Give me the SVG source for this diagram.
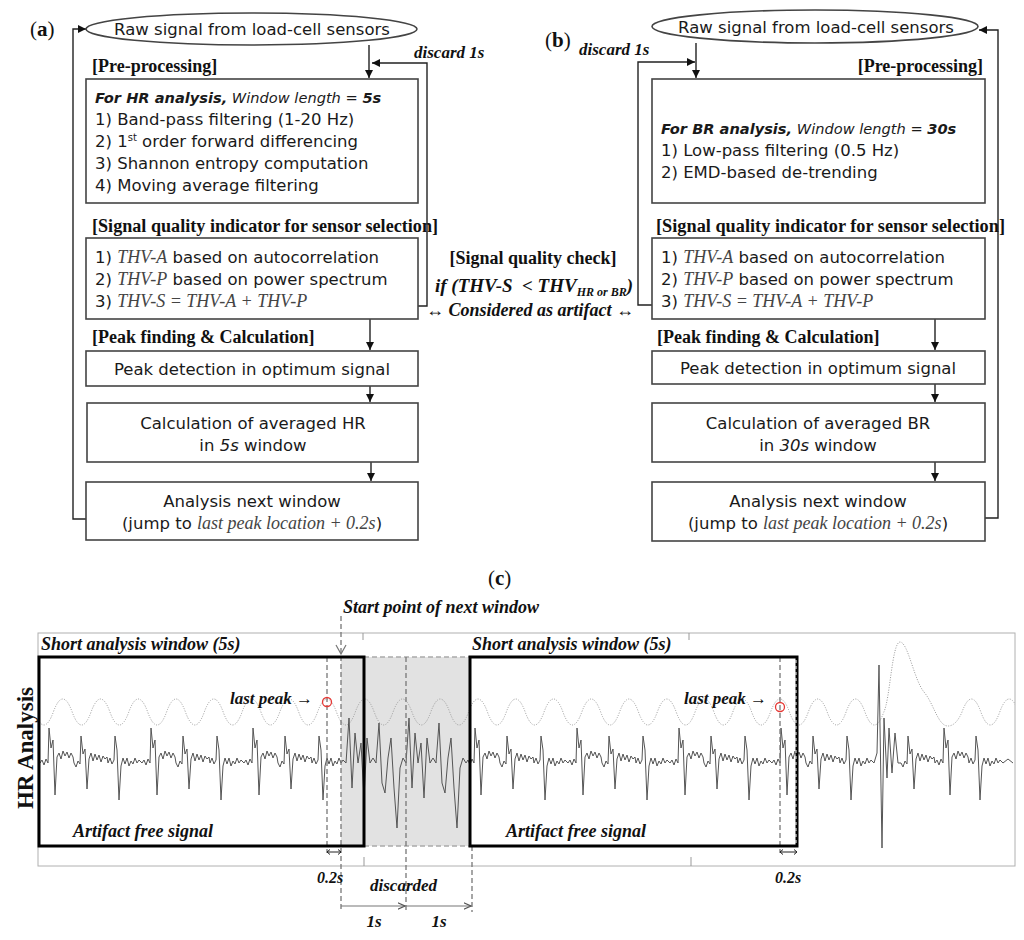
<svg xmlns="http://www.w3.org/2000/svg" width="1024" height="940" viewBox="0 0 1024 940">
<style>
.bx{fill:#fff;stroke:#444;stroke-width:1.6}
.s{font-family:"DejaVu Sans",sans-serif;font-size:16.5px;fill:#1a1a1a}
.m{text-anchor:middle}
.tb{font-family:"Liberation Serif",serif;font-weight:bold;font-size:18px;fill:#111}
.tbi{font-family:"Liberation Serif",serif;font-weight:bold;font-style:italic;font-size:18px;fill:#111}
.ti{font-family:"Liberation Serif",serif;font-style:italic;font-size:18px;fill:#444}
.ob{font-style:oblique}
.bo{font-style:oblique;font-weight:bold}
.c{fill:none;stroke:#222;stroke-width:1.4}
.lbl{font-family:"Liberation Serif",serif;font-size:21px;fill:#111}
.dash{fill:none;stroke:#777;stroke-width:1.3;stroke-dasharray:5,3}
.ldash{fill:none;stroke:#aaa;stroke-width:1.5;stroke-dasharray:5,3}
.thick{fill:none;stroke:#000;stroke-width:3}
.sig{fill:none;stroke:#555;stroke-width:1}
.dot{fill:none;stroke:#999;stroke-width:1;stroke-dasharray:1,1.5}
.pk{fill:none;stroke:#e53935;stroke-width:1.3}
.ga{fill:none;stroke:#777;stroke-width:1.2}
</style>
<defs>
<marker id="ah" viewBox="0 0 10 10" refX="10" refY="5" markerWidth="8" markerHeight="8" orient="auto" markerUnits="userSpaceOnUse"><path d="M0,0 L10,5 L0,10 z" fill="#111"/></marker>
<marker id="ahg" viewBox="0 0 10 10" refX="9" refY="5" markerWidth="8" markerHeight="8" orient="auto" markerUnits="userSpaceOnUse"><path d="M0,1 L9,5 L0,9" fill="none" stroke="#555" stroke-width="1.5"/></marker>
<clipPath id="fr"><rect x="38" y="633" width="977" height="233"/></clipPath>
</defs>

<!-- panel labels -->
<text class="lbl" x="30" y="36">(<tspan font-weight="bold">a</tspan>)</text>
<text class="lbl" x="545" y="47">(<tspan font-weight="bold">b</tspan>)</text>
<text class="lbl" x="488" y="585">(<tspan font-weight="bold">c</tspan>)</text>

<!-- connectors -->
<g id="connectors">
<path class="c" d="M369,45 V78" marker-end="url(#ah)"/>
<path class="c" d="M418,306 H427 V63 H372" marker-end="url(#ah)"/>
<path class="c" d="M370,319 V350" marker-end="url(#ah)"/>
<path class="c" d="M370,386 V402" marker-end="url(#ah)"/>
<path class="c" d="M371,462 V481" marker-end="url(#ah)"/>
<path class="c" d="M86,519 H73 V29 H86" marker-end="url(#ah)"/>
<path class="c" d="M696,43 V78" marker-end="url(#ah)"/>
<path class="c" d="M652,305 H638 V62 H695" marker-end="url(#ah)"/>
<path class="c" d="M935,319 V350" marker-end="url(#ah)"/>
<path class="c" d="M935,384 V402" marker-end="url(#ah)"/>
<path class="c" d="M935,462 V481" marker-end="url(#ah)"/>
<path class="c" d="M985,518 H998 V30 H979" marker-end="url(#ah)"/>
</g>

<!-- panel (a) -->
<g id="a-source">
<ellipse cx="251.5" cy="29" rx="165.5" ry="16" class="bx"/>
<text class="s m" x="252" y="35">Raw signal from load-cell sensors</text>
</g>
<text class="tbi" x="414" y="58" style="font-size:17px">discard 1s</text>
<text class="tb" x="92" y="72">[Pre-processing]</text>
<g id="a-pre">
<rect x="86" y="79" width="332" height="124" class="bx"/>
<text class="s" x="95" y="103" style="font-size:14.6px"><tspan class="bo">For HR analysis,</tspan><tspan class="ob"> Window length = </tspan><tspan class="bo">5s</tspan></text>
<text class="s" x="95" y="125">1) Band-pass filtering (1-20 Hz)</text>
<text class="s" x="95" y="147">2) 1<tspan style="font-size:10px" dy="-6">st</tspan><tspan dy="6"> order forward differencing</tspan></text>
<text class="s" x="95" y="169">3) Shannon entropy computation</text>
<text class="s" x="95" y="191">4) Moving average filtering</text>
</g>
<text class="tb" x="92" y="232" textLength="346" lengthAdjust="spacingAndGlyphs">[Signal quality indicator for sensor selection]</text>
<g id="a-sqi">
<rect x="86" y="238" width="332" height="81" class="bx"/>
<text class="s" x="95" y="263">1) <tspan class="ti">THV-A</tspan> based on autocorrelation</text>
<text class="s" x="95" y="285">2) <tspan class="ti">THV-P</tspan> based on power spectrum</text>
<text class="s" x="95" y="307">3) <tspan class="ti">THV-S = THV-A + THV-P</tspan></text>
</g>
<text class="tb" x="92" y="343">[Peak finding &amp; Calculation]</text>
<g id="a-peak">
<rect x="86" y="351" width="332" height="35" class="bx"/>
<text class="s m" x="252" y="375">Peak detection in optimum signal</text>
</g>
<g id="a-calc">
<rect x="87" y="403" width="331" height="59" class="bx"/>
<text class="s m" x="253" y="429">Calculation of averaged HR</text>
<text class="s m" x="253" y="451">in <tspan class="ob">5s</tspan> window</text>
</g>
<g id="a-next">
<rect x="86" y="482" width="332" height="58" class="bx"/>
<text class="s m" x="252" y="507">Analysis next window</text>
<text class="s m" x="252" y="529">(jump to <tspan class="ti">last peak location + 0.2s</tspan>)</text>
</g>

<!-- middle -->
<g id="quality-check">
<text class="tb m" x="533" y="264">[Signal quality check]</text>
<text class="tbi m" x="534" y="292" style="font-size:19px">if (THV-S&#160; &lt; THV<tspan style="font-size:12px" dy="4">HR or BR</tspan><tspan dy="-4">)</tspan></text>
<text class="tbi m" x="530" y="316">↔ Considered as artifact ↔</text>
</g>

<!-- panel (b) -->
<g id="b-source">
<ellipse cx="815" cy="26.5" rx="163" ry="16.5" class="bx"/>
<text class="s m" x="816" y="33">Raw signal from load-cell sensors</text>
</g>
<text class="tbi" x="579" y="55" style="font-size:17px">discard 1s</text>
<text class="tb" x="983" y="72" text-anchor="end">[Pre-processing]</text>
<g id="b-pre">
<rect x="652" y="79" width="333" height="124" class="bx"/>
<text class="s" x="661" y="134" style="font-size:14.6px"><tspan class="bo">For BR analysis,</tspan><tspan class="ob"> Window length = </tspan><tspan class="bo">30s</tspan></text>
<text class="s" x="661" y="156">1) Low-pass filtering (0.5 Hz)</text>
<text class="s" x="661" y="178">2) EMD-based de-trending</text>
</g>
<text class="tb" x="656" y="232" textLength="349" lengthAdjust="spacingAndGlyphs">[Signal quality indicator for sensor selection]</text>
<g id="b-sqi">
<rect x="652" y="238" width="333" height="81" class="bx"/>
<text class="s" x="661" y="263">1) <tspan class="ti">THV-A</tspan> based on autocorrelation</text>
<text class="s" x="661" y="285">2) <tspan class="ti">THV-P</tspan> based on power spectrum</text>
<text class="s" x="661" y="307">3) <tspan class="ti">THV-S = THV-A + THV-P</tspan></text>
</g>
<text class="tb" x="657" y="343">[Peak finding &amp; Calculation]</text>
<g id="b-peak">
<rect x="652" y="351" width="333" height="33" class="bx"/>
<text class="s m" x="818" y="374">Peak detection in optimum signal</text>
</g>
<g id="b-calc">
<rect x="652" y="403" width="333" height="59" class="bx"/>
<text class="s m" x="818" y="429">Calculation of averaged BR</text>
<text class="s m" x="818" y="451">in <tspan class="ob">30s</tspan> window</text>
</g>
<g id="b-next">
<rect x="652" y="482" width="333" height="59" class="bx"/>
<text class="s m" x="818" y="507">Analysis next window</text>
<text class="s m" x="818" y="529">(jump to <tspan class="ti">last peak location + 0.2s</tspan>)</text>
</g>

<!-- panel (c) -->
<g id="c-plot">
<rect x="38" y="633" width="977" height="233" fill="#fff" stroke="#b0b0b0" stroke-width="1"/>
<path d="M363,633 v7 M689,633 v7 M364,866 v-9 M691,866 v-9" stroke="#999" stroke-width="1"/>
<rect x="341" y="657" width="129" height="189" fill="#e2e2e2"/>
<path class="ldash" d="M364,657 H470 M364,846 H470"/>
<g clip-path="url(#fr)">
<path class="dot" d="M15.5625,712 q9.4375,-26 18.875,0 t18.875,0 t18.875,0 t18.875,0 t18.875,0 t18.875,0 t18.875,0 t18.875,0 t18.875,0 t18.875,0 t18.875,0 t18.875,0 t18.875,0 t18.875,0 t18.875,0 t18.875,0 t18.875,0 t18.875,0 t18.875,0 t18.875,0 t18.875,0 t18.875,0 t18.875,0 t18.875,0 t18.875,0 t18.875,0 t18.875,0 t18.875,0 t18.875,0 t18.875,0 t18.875,0 t18.875,0 t18.875,0 t18.875,0 t18.875,0 t18.875,0 t18.875,0 t18.875,0 t18.875,0 t18.875,0 t18.875,0 t18.875,0 t18.875,0 t18.875,0 t18.875,0 t18.875,0 C890,700 892,642 900,642 C908,642 914,680 924,692 C934,704 938,726 948,726 Q956,726 962,712 q9.4375,-26 18.875,0 t18.875,0 t18.875,0 t18.875,0"/>
<path class="sig" d="M40,763
l2,-3 2,5 2,-6 2,4 1,-35 2,20 2,-8 2,55 2,-38 2,-4 2,6 2,-8 2,5 2,-4 2,6 2,-5 2,4 1,6
l2,4 2,-6 2,3 1,-28 2,18 2,-5 2,40 2,-30 2,-6 2,8 2,-7 2,6 2,-5 2,7 2,-6 2,3 2,-2 1,6
l2,-5 2,6 2,-4 1,-24 2,14 2,50 2,-34 2,-8 2,6 2,-6 2,8 2,-5 2,3 2,-6 2,5 2,-3 2,2 1,1
l2,-3 2,5 2,-6 2,4 1,-35 2,20 2,-8 2,55 2,-38 2,-4 2,6 2,-8 2,5 2,-4 2,6 2,-5 2,4 1,6
l2,4 2,-6 2,3 1,-28 2,18 2,-5 2,40 2,-30 2,-6 2,8 2,-7 2,6 2,-5 2,7 2,-6 2,3 2,-2 1,6
l2,-5 2,6 2,-4 1,-24 2,14 2,50 2,-34 2,-8 2,6 2,-6 2,8 2,-5 2,3 2,-6 2,5 2,-3 2,2 1,1
l2,-3 2,5 2,-6 2,4 1,-35 2,20 2,-8 2,55 2,-38 2,-4 2,6 2,-8 2,5 2,-4 2,6 2,-5 2,4 1,6
l2,4 2,-6 2,3 1,-28 2,18 2,-5 2,40 2,-30 2,-6 2,8 2,-7 2,6 2,-5 2,7 2,-6 2,3 2,-2 1,6
l2,-5 2,6 2,-4 1,-24 2,14 2,50 2,-34 2,-8 2,6 2,-6 2,8 2,-5 2,3 2,-6 2,5 2,-3 2,2 1,1
l3,-45 3,70 3,-55 3,30 3,-20 3,55 3,-60 3,25 3,-5 3,5
l3,-40 3,60 3,10 3,-35 3,-20 3,50 3,40 3,-60 3,-10 3,5
l3,-45 3,70 3,-55 3,30 3,-20 3,55 3,-60 3,25 3,-5 3,5
l3,-40 3,60 3,10 3,-35 3,-20 3,50 3,40 3,-60 3,-10 3,5
l2,-3 2,5 2,-6 2,4 1,-35 2,20 2,-8 2,55 2,-38 2,-4 2,6 2,-8 2,5 2,-4 2,6 2,-5 2,4 1,6
l2,4 2,-6 2,3 1,-28 2,18 2,-5 2,40 2,-30 2,-6 2,8 2,-7 2,6 2,-5 2,7 2,-6 2,3 2,-2 1,6
l2,-5 2,6 2,-4 1,-24 2,14 2,50 2,-34 2,-8 2,6 2,-6 2,8 2,-5 2,3 2,-6 2,5 2,-3 2,2 1,1
l2,-3 2,5 2,-6 2,4 1,-35 2,20 2,-8 2,55 2,-38 2,-4 2,6 2,-8 2,5 2,-4 2,6 2,-5 2,4 1,6
l2,4 2,-6 2,3 1,-28 2,18 2,-5 2,40 2,-30 2,-6 2,8 2,-7 2,6 2,-5 2,7 2,-6 2,3 2,-2 1,6
l2,-5 2,6 2,-4 1,-24 2,14 2,50 2,-34 2,-8 2,6 2,-6 2,8 2,-5 2,3 2,-6 2,5 2,-3 2,2 1,1
l2,-3 2,5 2,-6 2,4 1,-35 2,20 2,-8 2,55 2,-38 2,-4 2,6 2,-8 2,5 2,-4 2,6 2,-5 2,4 1,6
l2,4 2,-6 2,3 1,-28 2,18 2,-5 2,40 2,-30 2,-6 2,8 2,-7 2,6 2,-5 2,7 2,-6 2,3 2,-2 1,6
l2,-5 2,6 2,-4 1,-24 2,14 2,50 2,-34 2,-8 2,6 2,-6 2,8 2,-5 2,3 2,-6 2,5 2,-3 2,2 1,1
l2,-3 2,5 2,-6 2,4 1,-35 2,20 2,-8 2,55 2,-38 2,-4 2,6 2,-8 2,5 2,-4 2,6 2,-5 2,4 1,6
l2,4 2,-6 2,3 1,-28 2,18 2,-5 2,40 2,-30 2,-6 2,8 2,-7 2,6 2,-5 2,7 2,-6 2,3 2,-2 1,6
l2,-5 2,6 2,-4 1,-24 2,14 2,50 2,-34 2,-8 2,6 2,-6 2,8 2,-5 2,3 2,-6 2,5 2,-3 2,2 1,1
l3,-10 2,-88 3,183 2,-130 3,60 2,-50 3,45 3,-40 3,30 3,0
l2,4 2,-6 2,3 1,-28 2,18 2,-5 2,40 2,-30 2,-6 2,8 2,-7 2,6 2,-5 2,7 2,-6 2,3 2,-2 1,6
l2,-3 2,5 2,-6 2,4 1,-35 2,20 2,-8 2,55 2,-38 2,-4 2,6 2,-8 2,5 2,-4 2,6 2,-5 2,4 1,6
l2,-5 2,6 2,-4 1,-24 2,14 2,50 2,-34 2,-8 2,6 2,-6 2,8 2,-5 2,3 2,-6 2,5 2,-3 2,2 1,1
l5,-4 5,4"/>
</g>
<path class="dash" d="M341,616 V912 M406,657 V912 M472,846 V912 M327,657 V853 M780,657 V853"/>
<path class="ga" d="M336,645 L341,654 L346,645"/>
<rect x="39" y="657" width="325" height="189" class="thick"/>
<rect x="470" y="657" width="327" height="189" class="thick"/>
<path d="M796,660 V843" stroke="#fff" stroke-width="1" stroke-dasharray="3,3"/>
<circle cx="327" cy="702" r="4.5" class="pk"/>
<circle cx="780" cy="707" r="4.5" class="pk"/>
<path d="M327,852 h14 M330,849.5 l-3,2.5 3,2.5 M338,849.5 l3,2.5 -3,2.5 M780,852 h17 M783,849.5 l-3,2.5 3,2.5 M794,849.5 l3,2.5 -3,2.5" fill="none" stroke="#222" stroke-width="1"/>
<path class="ga" d="M341,906 H405" marker-end="url(#ahg)"/>
<path class="ga" d="M406,906 H471" marker-end="url(#ahg)"/>
<text class="tbi" x="343" y="613">Start point of next window</text>
<text class="tbi" x="41" y="650">Short analysis window (5s)</text>
<text class="tbi" x="472" y="650">Short analysis window (5s)</text>
<text class="tbi" x="230" y="704" style="font-size:17px">last peak →</text>
<text class="tbi" x="684" y="704" style="font-size:17px">last peak →</text>
<text class="tbi" x="73" y="837">Artifact free signal</text>
<text class="tbi" x="506" y="837">Artifact free signal</text>
<text class="tbi" x="317" y="883" style="font-size:16px">0.2s</text>
<text class="tbi" x="775" y="883" style="font-size:16px">0.2s</text>
<text class="tbi" x="370" y="891" style="font-size:17px">discarded</text>
<text class="tbi m" x="374" y="927" style="font-size:17px">1s</text>
<text class="tbi m" x="439" y="927" style="font-size:17px">1s</text>
<text class="tb m" transform="translate(33,748) rotate(-90)" style="font-size:23px">HR Analysis</text>
</g>
</svg>
